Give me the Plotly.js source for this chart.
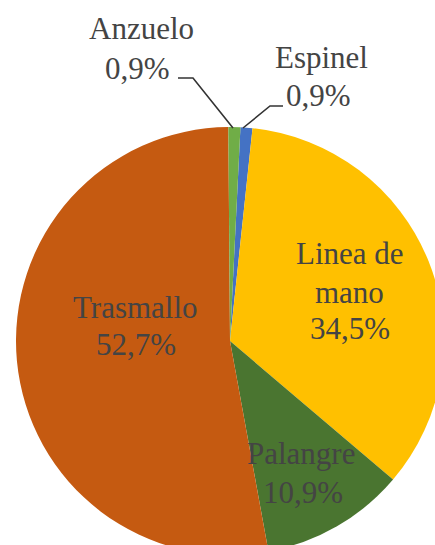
<!DOCTYPE html>
<html>
<head>
<meta charset="utf-8">
<script src="https://cdn.plot.ly/plotly-3.0.1.min.js"></script>
</head>
<body style="margin:0;overflow:hidden">
<div id="chart" style="width:450px;height:560px"></div>
<script>
// ---- data ----
const categories = ['Espinel', 'Linea de mano', 'Palangre', 'Trasmallo', 'Anzuelo'];
const percentages = [0.9, 34.5, 10.9, 52.7, 0.9];
const colors = ['#4472C4', '#FFC000', '#4A7530', '#C55A11', '#70AD47'];

// ---- layout geometry (pixels) ----
const W = 450, H = 560;
const M = {l: 16, r: 6, t: 127, b: 5};
const PW = W - M.l - M.r, PH = H - M.t - M.b;
const px2x = x => (x - M.l) / PW;
const px2y = y => 1 - (y - M.t) / PH;

const fmt = v => v.toFixed(1).replace('.', ',') + '%';

// label text lines built from the data; placement kept separately
const nameLines = {
  'Espinel': ['Espinel'],
  'Linea de mano': ['Linea de', 'mano'],
  'Palangre': ['Palangre'],
  'Trasmallo': ['Trasmallo'],
  'Anzuelo': ['Anzuelo']
};
// baseline positions (px) for each line of each label: [centerX, baselineY]
const labelPlace = {
  'Espinel': [[321, 67], [318, 105]],
  'Linea de mano': [[350, 263], [349, 302], [350, 338]],
  'Palangre': [[301, 463], [303, 502]],
  'Trasmallo': [[135, 317], [136, 354]],
  'Anzuelo': [[141, 39], [137, 78]]
};

const annotations = [];
categories.forEach((c, i) => {
  const lines = nameLines[c].concat([fmt(percentages[i])]);
  lines.forEach((t, k) => {
    const p = labelPlace[c][k];
    annotations.push({
      text: t, x: px2x(p[0]), y: px2y(p[1] - 10),
      xref: 'paper', yref: 'paper',
      xanchor: 'center', yanchor: 'middle', showarrow: false,
      font: {family: 'Liberation Serif', size: 31}
    });
  });
});

// leader lines for the small slices
const leader = (pts) => ({
  type: 'path', xref: 'paper', yref: 'paper',
  path: pts.map((p, k) => (k ? 'L' : 'M') + px2x(p[0]) + ',' + px2y(p[1])).join(' '),
  line: {color: '#333', width: 1.6}
});
const shapes = [
  leader([[178, 78], [193, 78], [233, 128]]),
  leader([[283, 106], [270, 106], [243, 128]])
];

Plotly.newPlot('chart', [{
  type: 'pie',
  labels: categories,
  values: percentages,
  sort: false,
  direction: 'clockwise',
  rotation: 2.8,
  marker: {colors: colors, line: {width: 0}},
  textinfo: 'none'
}], {
  width: W, height: H,
  margin: M,
  showlegend: false,
  annotations: annotations,
  shapes: shapes
}, {displayModeBar: false});
</script>
</body>
</html>
